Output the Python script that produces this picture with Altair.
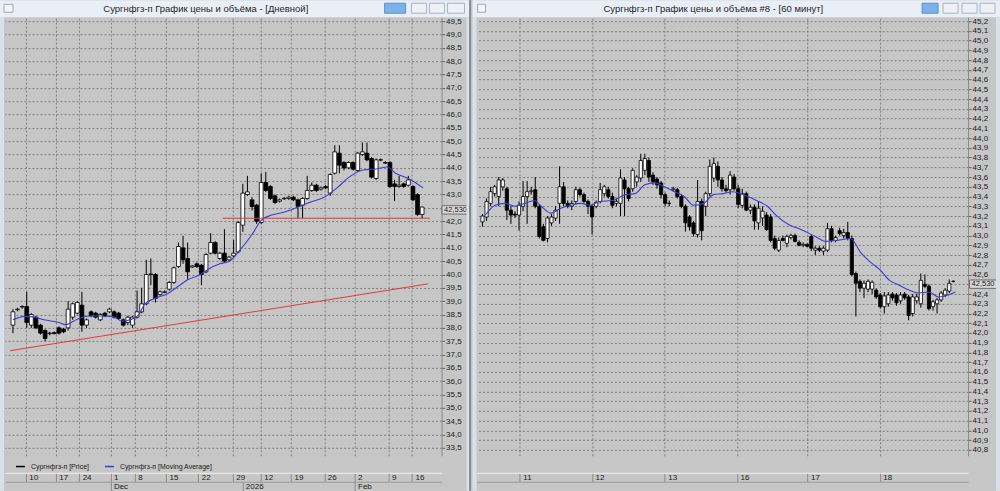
import altair as alt
import pandas as pd

FONT = "Liberation Sans"
PRICE = "Сургнфгз-п [Price]"
MAVG = "Сургнфгз-п [Moving Average]"
TITLE_L = "Сургнфгз-п График цены и объёма - [Дневной]"
TITLE_R = "Сургнфгз-п График цены и объёма #8 - [60 минут]"

# ---------------- daily window ----------------
l_open = [38.10, 38.68, 38.78, 38.80, 38.10, 38.40, 38.10, 37.90, 37.78, 37.82,
          38.00, 37.95, 38.00, 38.40, 38.55, 38.85, 38.10, 38.60, 38.55, 38.30,
          38.55, 38.60, 38.60, 38.55, 38.30, 38.20, 38.10, 38.40, 38.60, 38.90,
          40.00, 40.00, 39.25, 39.33, 39.45, 39.70, 40.30, 41.00, 40.60, 40.28,
          40.40, 40.35, 40.10, 40.80, 41.20, 40.60, 40.80, 40.55, 40.70, 40.85,
          41.85, 43.00, 42.80, 42.60, 41.95, 43.45, 43.30, 42.95, 42.75, 42.84,
          42.85, 42.90, 42.80, 42.60, 42.85, 43.15, 43.35, 43.20, 43.30, 43.05,
          43.80, 44.55, 44.20, 44.00, 44.20, 43.90, 44.50, 44.55, 44.35, 43.60,
          44.30, 44.20, 44.20, 43.40, 43.30, 43.40, 43.35, 43.30, 43.00, 42.25]
l_high = [38.70, 38.75, 38.85, 39.35, 38.55, 38.45, 38.15, 37.95, 37.85, 37.86,
          38.05, 38.00, 39.00, 38.95, 39.00, 39.35, 38.35, 38.65, 38.60, 38.55,
          38.60, 38.75, 38.65, 38.60, 38.35, 38.45, 38.45, 39.40, 39.50, 40.55,
          40.60, 40.05, 39.40, 39.40, 39.75, 40.30, 41.20, 41.45, 41.20, 40.35,
          40.45, 40.40, 40.80, 41.55, 41.25, 40.85, 41.70, 40.70, 41.30, 42.00,
          43.40, 43.70, 42.90, 42.65, 43.80, 43.85, 43.35, 43.00, 42.85, 42.90,
          42.95, 42.95, 42.85, 42.90, 43.70, 43.45, 43.40, 43.30, 43.35, 43.80,
          44.85, 44.85, 44.25, 44.25, 44.25, 44.60, 44.95, 44.95, 44.40, 44.35,
          44.35, 44.25, 44.25, 43.55, 43.70, 43.45, 43.70, 43.35, 43.05, 42.55]
l_low = [37.80, 38.62, 38.72, 38.00, 38.00, 37.95, 37.75, 37.50, 37.72, 37.76,
         37.75, 37.80, 37.90, 38.30, 38.50, 37.85, 38.00, 38.40, 38.35, 38.25,
         38.40, 38.55, 38.35, 38.30, 38.05, 38.10, 38.00, 38.35, 38.55, 38.85,
         39.60, 38.95, 39.20, 39.30, 39.40, 39.65, 40.25, 40.40, 39.80, 40.25,
         40.25, 39.60, 40.05, 40.75, 40.75, 40.55, 40.45, 40.50, 40.65, 40.80,
         41.60, 42.95, 42.40, 41.90, 41.90, 43.10, 42.80, 42.65, 42.70, 42.80,
         42.80, 42.75, 42.10, 42.10, 42.80, 43.10, 43.10, 43.15, 43.20, 42.95,
         43.75, 43.80, 43.90, 43.95, 43.90, 43.85, 44.45, 44.25, 43.60, 43.55,
         44.25, 44.15, 43.25, 42.75, 43.25, 43.25, 43.30, 42.75, 42.20, 42.10]
l_close = [38.60, 38.70, 38.80, 38.20, 38.50, 38.00, 37.80, 37.60, 37.80, 37.78,
           37.80, 37.85, 38.70, 38.90, 38.95, 38.10, 38.30, 38.45, 38.40, 38.50,
           38.45, 38.70, 38.40, 38.35, 38.10, 38.40, 38.40, 38.60, 38.90, 40.00,
           40.02, 39.10, 39.35, 39.35, 39.70, 40.25, 41.05, 40.55, 40.10, 40.32,
           40.30, 40.00, 40.75, 41.20, 40.80, 40.80, 40.50, 40.65, 40.80, 41.95,
           43.05, 43.10, 42.55, 42.00, 43.45, 43.15, 42.85, 42.70, 42.80, 42.86,
           42.90, 42.80, 42.55, 42.85, 43.15, 43.35, 43.15, 43.25, 43.25, 43.75,
           44.60, 44.10, 44.00, 44.20, 43.95, 44.55, 44.60, 44.30, 43.65, 44.30,
           44.30, 44.18, 43.30, 43.30, 43.35, 43.30, 43.55, 42.80, 42.25, 42.53]

lma_i = [0, 2.5, 4.7, 6.8, 10, 11.5, 13.2, 14.6, 17.4, 21.7, 23.8, 25.5, 27.4, 28.7,
         30.8, 33.8, 35.9, 38, 40.8, 42.5, 45, 47.1, 48.8, 52, 54.1, 56.3, 59.2, 62,
         64.8, 67.7, 70.5, 73.2, 76.2, 79, 81.5, 83.2, 86, 89.2]
lma_v = [38.3, 38.43, 38.4, 38.3, 38.2, 38.12, 38.25, 38.37, 38.45, 38.42, 38.25, 38.3,
         38.5, 38.9, 39.1, 39.3, 39.55, 39.8, 40.0, 40.2, 40.4, 40.5, 40.8, 41.5, 42.05,
         42.23, 42.35, 42.53, 42.72, 42.9, 43.25, 43.66, 43.92, 43.96, 44.03, 43.8,
         43.6, 43.25]

red_i = [-0.64, 90.3, 45.6, 90.7]
red_v = [37.14, 39.65, 42.11, 42.11]
red_id = ["trend", "trend", "level", "level"]

l_sep = [2.8, 9.3, 14.4, 21.2, 26.5, 33.3, 40.3, 47.8, 53.9, 60.5, 67.7, 74.3, 81.7, 86.8]
l_sep_lab = ["10", "17", "24", "1", "8", "15", "22", "29", "12", "19", "26", "2", "9", "16"]
l_mon = [21.2, 49.9, 74.3]
l_mon_lab = ["Dec", "2026", "Feb"]
l_yticks = [round(33.5 + 0.5 * k, 1) for k in range(33)]

# ---------------- 60-minute window ----------------
r_open = [43.14, 43.19, 43.33, 43.43, 43.40, 43.50, 43.48, 43.26, 43.22, 43.21,
          43.30, 43.40, 43.45, 43.47, 43.30, 43.09, 42.97, 43.13, 43.18, 43.33,
          43.50, 43.33, 43.30, 43.35, 43.47, 43.42, 43.35, 43.30, 43.30, 43.35,
          43.43, 43.47, 43.40, 43.33, 43.33, 43.57, 43.48, 43.48, 43.55, 43.59,
          43.67, 43.77, 43.62, 43.58, 43.54, 43.42, 43.33, 43.47, 43.47, 43.40,
          43.30, 43.19, 43.13, 43.01, 43.35, 43.30, 43.43, 43.59, 43.71, 43.57,
          43.48, 43.47, 43.60, 43.48, 43.31, 43.43, 43.26, 43.29, 43.13, 43.18,
          43.21, 43.19, 42.97, 42.85, 42.97, 42.92, 42.98, 43.00, 42.93, 42.90,
          42.91, 42.99, 42.85, 42.87, 42.84, 42.85, 43.07, 42.95, 43.05, 43.00,
          43.03, 42.97, 42.61, 42.53, 42.46, 42.45, 42.45, 42.44, 42.39, 42.27,
          42.30, 42.40, 42.39, 42.33, 42.40, 42.37, 42.20, 42.33, 42.30, 42.50,
          42.48, 42.27, 42.30, 42.34, 42.39, 42.43, 42.53]
r_high = [43.22, 43.38, 43.50, 43.52, 43.60, 43.59, 43.50, 43.30, 43.25, 43.35,
          43.56, 43.56, 43.50, 43.60, 43.32, 43.12, 43.20, 43.22, 43.30, 43.71,
          43.55, 43.36, 43.36, 43.50, 43.49, 43.44, 43.37, 43.32, 43.36, 43.54,
          43.52, 43.50, 43.44, 43.38, 43.68, 43.60, 43.50, 43.69, 43.62, 43.84,
          43.84, 43.80, 43.65, 43.60, 43.56, 43.44, 43.36, 43.50, 43.49, 43.42,
          43.32, 43.21, 43.15, 43.57, 43.38, 43.45, 43.78, 43.80, 43.76, 43.60,
          43.52, 43.66, 43.63, 43.52, 43.48, 43.45, 43.32, 43.32, 43.35, 43.30,
          43.24, 43.22, 43.00, 42.98, 43.00, 43.01, 43.02, 43.02, 42.95, 42.93,
          42.92, 43.01, 42.89, 42.89, 42.89, 43.13, 43.10, 43.00, 43.08, 43.07,
          43.14, 43.00, 42.63, 42.55, 42.54, 42.55, 42.54, 42.46, 42.41, 42.42,
          42.42, 42.42, 42.41, 42.42, 42.42, 42.39, 42.40, 42.40, 42.61, 42.60,
          42.50, 42.34, 42.36, 42.43, 42.46, 42.55, 42.54]
r_low = [43.09, 43.15, 43.30, 43.40, 43.30, 43.46, 43.16, 43.12, 43.18, 43.05,
         43.25, 43.12, 43.42, 43.28, 42.97, 42.94, 42.93, 43.10, 43.15, 43.12,
         43.30, 43.28, 43.26, 43.32, 43.40, 43.33, 43.22, 43.01, 43.28, 43.33,
         43.40, 43.38, 43.28, 43.30, 43.20, 43.20, 43.35, 43.45, 43.50, 43.55,
         43.62, 43.55, 43.52, 43.48, 43.38, 43.30, 43.30, 43.45, 43.38, 43.28,
         43.04, 43.05, 42.99, 42.98, 42.95, 43.20, 43.40, 43.55, 43.50, 43.45,
         43.44, 43.42, 43.46, 43.28, 43.28, 43.25, 43.22, 43.06, 43.06, 43.10,
         43.05, 42.93, 42.85, 42.83, 42.94, 42.88, 42.96, 42.93, 42.89, 42.88,
         42.88, 42.84, 42.80, 42.83, 42.80, 42.83, 42.93, 42.93, 43.00, 42.97,
         42.95, 42.58, 42.17, 42.42, 42.36, 42.42, 42.40, 42.35, 42.25, 42.20,
         42.27, 42.33, 42.28, 42.30, 42.34, 42.13, 42.17, 42.30, 42.26, 42.46,
         42.23, 42.23, 42.20, 42.32, 42.37, 42.41, 42.52]
r_close = [43.20, 43.35, 43.45, 43.50, 43.57, 43.57, 43.26, 43.21, 43.21, 43.31,
           43.40, 43.45, 43.46, 43.30, 42.99, 42.95, 43.18, 43.19, 43.26, 43.50,
           43.33, 43.30, 43.33, 43.47, 43.42, 43.35, 43.30, 43.19, 43.34, 43.47,
           43.50, 43.40, 43.31, 43.35, 43.59, 43.48, 43.38, 43.67, 43.60, 43.77,
           43.79, 43.60, 43.55, 43.52, 43.42, 43.33, 43.33, 43.48, 43.40, 43.30,
           43.13, 43.09, 43.02, 43.35, 43.05, 43.43, 43.71, 43.74, 43.57, 43.48,
           43.46, 43.62, 43.48, 43.32, 43.43, 43.26, 43.29, 43.15, 43.28, 43.25,
           43.06, 42.95, 42.87, 42.95, 42.95, 42.99, 43.00, 42.94, 42.90, 42.91,
           42.89, 42.87, 42.87, 42.85, 42.87, 43.07, 42.95, 42.98, 43.02, 43.03,
           42.97, 42.60, 42.51, 42.46, 42.51, 42.53, 42.52, 42.37, 42.27, 42.38,
           42.39, 42.36, 42.31, 42.39, 42.36, 42.18, 42.37, 42.37, 42.54, 42.48,
           42.25, 42.32, 42.34, 42.41, 42.44, 42.51, 42.53]

rma_i = [0.7, 3.1, 5.5, 8.0, 10.4, 12.8, 14.5, 16.9, 19.3, 21.7, 24.1, 26.5, 28.9,
         32.1, 35.2, 37.6, 40.0, 42.4, 44.8, 47.3, 49.7, 52.1, 54.5, 56.9, 59.3, 61.7,
         64.1, 67.5, 70.2, 72.3, 75.5, 78.6, 82.0, 84.6, 87.5, 90.7, 93.1, 95.5, 97.9,
         100.3, 102.7, 105.1, 107.5, 110.0, 112.4, 114.8, 116.5]
rma_v = [43.21, 43.31, 43.33, 43.30, 43.33, 43.36, 43.30, 43.23, 43.28, 43.31, 43.33,
         43.31, 43.35, 43.36, 43.42, 43.43, 43.52, 43.54, 43.50, 43.45, 43.40, 43.31,
         43.33, 43.42, 43.43, 43.45, 43.42, 43.36, 43.30, 43.21, 43.11, 43.06, 42.99,
         42.94, 42.95, 42.97, 42.83, 42.73, 42.65, 42.54, 42.49, 42.44, 42.41, 42.42,
         42.37, 42.39, 42.42]

r_sep = [9.2, 27.0, 44.9, 62.7, 80.1, 97.9]
r_sep_lab = ["11", "12", "13", "16", "17", "18"]
r_yticks = [round(40.8 + 0.1 * k, 1) for k in range(45)]

LAST_PRICE = [42.53]
LAST_TEXT = ["42,530"]

H = 439
BG = "#c6c6c6"
GRID = "#7e7e7e"
BLUE = "#3c3cd2"
RED = "#e23a3a"
FRAME = "#d6e1ee"
BAR = "#e9eff7"
ONE = alt.Data(values=[{"k": 0}])


def ohlc_frame(o, h, l, c):
    return pd.DataFrame({"i": list(range(len(o))), "open": o, "high": h,
                         "low": l, "close": c, "series": PRICE})


def label_expr(vals, labs):
    v = ",".join(str(x) for x in vals)
    s = ",".join("'" + x + "'" for x in labs)
    return "[" + s + "][indexof([" + v + "], datum.value)]"


def rect(x, x2, y, y2, fill, stroke=None):
    kw = {"fill": fill}
    if stroke:
        kw.update(stroke=stroke, strokeWidth=1)
    return alt.Chart(ONE).mark_rect(**kw).encode(
        x=alt.value(x), x2=alt.value(x2), y=alt.value(y), y2=alt.value(y2))


def row_axis(vals, labs, offset, dom_color):
    kw = dict(values=vals, orient="bottom", offset=offset, domain=True,
              domainColor=dom_color, ticks=True, tickColor="#8c8c8c", tickSize=9,
              labelAlign="left", labelBaseline="middle", labelPadding=-4.5,
              labelOffset=3, labelFontSize=8, labelFont=FONT, labelColor="#202020",
              grid=False, title=None, labelOverlap=False, labelFlush=False)
    if vals:
        kw["labelExpr"] = label_expr(vals, labs)
    return alt.Axis(**kw)


def panel(df, ma, W, xdom, ydom, yticks, seps, seplabs, mons, monlabs, bsize,
          box_x, red_df, chrome, title, title_x, leg_x):
    xs = alt.Scale(domain=xdom, nice=False, zero=False)
    ys = alt.Scale(domain=ydom, nice=False, zero=False)
    color = alt.Color("series:N",
                      scale=alt.Scale(domain=[PRICE, MAVG], range=["#000000", BLUE]),
                      legend=alt.Legend(orient="none", legendX=leg_x, legendY=H + 5,
                                        direction="horizontal", title=None,
                                        symbolType="stroke", symbolSize=80,
                                        symbolStrokeWidth=1.5, labelFontSize=7,
                                        labelFont=FONT, labelColor="#202020",
                                        columnPadding=12, labelOffset=5, padding=0))
    y_axis = alt.Axis(values=yticks, orient="right",
                      labelExpr="datum.value == 42.5 ? '' : "
                                "replace(format(datum.value, '.1f'), '.', ',')",
                      grid=True, gridColor=GRID, gridDash=[2, 2], tickSize=3,
                      tickColor="#606060", domainColor="#8a8a8a", labelFontSize=8,
                      labelFont=FONT, labelColor="#202020", labelPadding=1, title=None,
                      labelOverlap=False, labelFlush=False)
    grid_axis = alt.Axis(values=seps, grid=True, gridColor=GRID, gridDash=[2, 2],
                         labels=False, ticks=False, domain=False, title=None)

    wick = alt.Chart(df).mark_rule(strokeWidth=1).encode(
        x=alt.X("i:Q", scale=xs, axis=row_axis(seps, seplabs, 17, "#f2f2f2")),
        y=alt.Y("low:Q", scale=ys, axis=y_axis), y2="high:Q", color=color)
    body = alt.Chart(df).mark_bar(size=bsize, stroke="black", strokeWidth=0.8).encode(
        x=alt.X("i:Q", scale=xs, axis=grid_axis),
        y=alt.Y("open:Q", scale=ys, axis=y_axis), y2="close:Q",
        fill=alt.condition("datum.close >= datum.open", alt.value("white"),
                           alt.value("black")))
    ma_line = alt.Chart(ma).mark_line(strokeWidth=1.1, interpolate="monotone").encode(
        x=alt.X("i:Q", scale=xs, axis=row_axis(mons, monlabs, 26, "#9a9a9a")),
        y=alt.Y("v:Q", scale=ys, axis=y_axis), color=color)
    layers = [wick, body, ma_line]
    if red_df is not None:
        layers.append(alt.Chart(red_df).mark_line(color=RED, strokeWidth=1).encode(
            x=alt.X("i:Q", scale=xs, axis=None),
            y=alt.Y("v:Q", scale=ys, axis=y_axis), detail="id:N"))

    last = pd.DataFrame({"v": LAST_PRICE, "t": LAST_TEXT})
    box = alt.Chart(last).mark_point(
        shape="M-1,-0.1L1,-0.1L1,0.52L-1,0.52Z", size=729, filled=True,
        fill="#d8d8d8", stroke="#6a6a6a", strokeWidth=1, opacity=1).encode(
        x=alt.value(box_x), y=alt.Y("v:Q", scale=ys, axis=y_axis))
    box_t = alt.Chart(last).mark_text(fontSize=7.5, font=FONT, color="#202020",
                                      dy=3).encode(
        x=alt.value(box_x), y=alt.Y("v:Q", scale=ys, axis=y_axis), text="t:N")
    layers += [box, box_t]
    for (a, b, c, d, f, s) in chrome:
        layers.append(rect(a, b, c, d, f, s))
    layers.append(alt.Chart(ONE).mark_text(text=title, fontSize=9.5, font=FONT,
                                           color="#1e1e1e").encode(
        x=alt.value(title_x), y=alt.value(-8.5)))
    return alt.layer(*layers).resolve_axis(x="independent").properties(width=W, height=H)


# left window
LW = 437
ldf = ohlc_frame(l_open, l_high, l_low, l_close)
lma = pd.DataFrame({"i": lma_i, "v": lma_v, "series": MAVG})
red_df = pd.DataFrame({"i": red_i, "v": red_v, "id": red_id})
l_chrome = [
    (-5, LW + 28, -17, 0, BAR, None),
    (-5, -1, 0, H + 35, FRAME, None),
    (LW + 25, LW + 28, 0, H + 35, FRAME, None),
    (LW + 28, LW + 29, -17, H + 35, "#4a4a4a", None),
    (-1, 8, -13, -5, "#f4f6f9", "#9aa8b8"),
    (380, 401, -14, -4, "#7db1ea", "#5a8fd0"),
    (407, 422, -14, -4, "#eef2f7", "#a5b3c4"),
    (425, 440, -14, -4, "#eef2f7", "#a5b3c4"),
    (443, 460, -14, -4, "#eef2f7", "#a5b3c4"),
]
left = panel(ldf, lma, LW, [-0.64, 92.14], [33.2, 49.65], l_yticks, l_sep, l_sep_lab,
             l_mon, l_mon_lab, 3.8, LW + 14, red_df, l_chrome, TITLE_L, 201, 10)

# right window
RW = 492
rdf = ohlc_frame(r_open, r_high, r_low, r_close)
rma = pd.DataFrame({"i": rma_i, "v": rma_v, "series": MAVG})
r_chrome = [
    (-4, RW + 32, -17, 0, BAR, None),
    (-4, 0, 0, H + 35, FRAME, None),
    (RW + 28, RW + 32, 0, H + 35, FRAME, None),
    (1, 9, -13, -5, "#f4f6f9", "#9aa8b8"),
    (446, 462, -14, -4, "#7db1ea", "#5a8fd0"),
    (467, 482, -14, -4, "#eef2f7", "#a5b3c4"),
    (486, 501, -14, -4, "#eef2f7", "#a5b3c4"),
    (504, 519, -14, -4, "#eef2f7", "#a5b3c4"),
]
right = panel(rdf, rma, RW, [-0.24, 118.4], [40.74, 45.24], r_yticks, r_sep, r_sep_lab,
              [], [], 3.2, RW + 15, None, r_chrome, TITLE_R, 237, 10)

chart = alt.hconcat(left, right, spacing=1).configure(
    background=BG, padding=0, font=FONT).configure_view(stroke=None, fill=BG)

chart.save("out.html", embed_options={"renderer": "svg", "actions": False})
